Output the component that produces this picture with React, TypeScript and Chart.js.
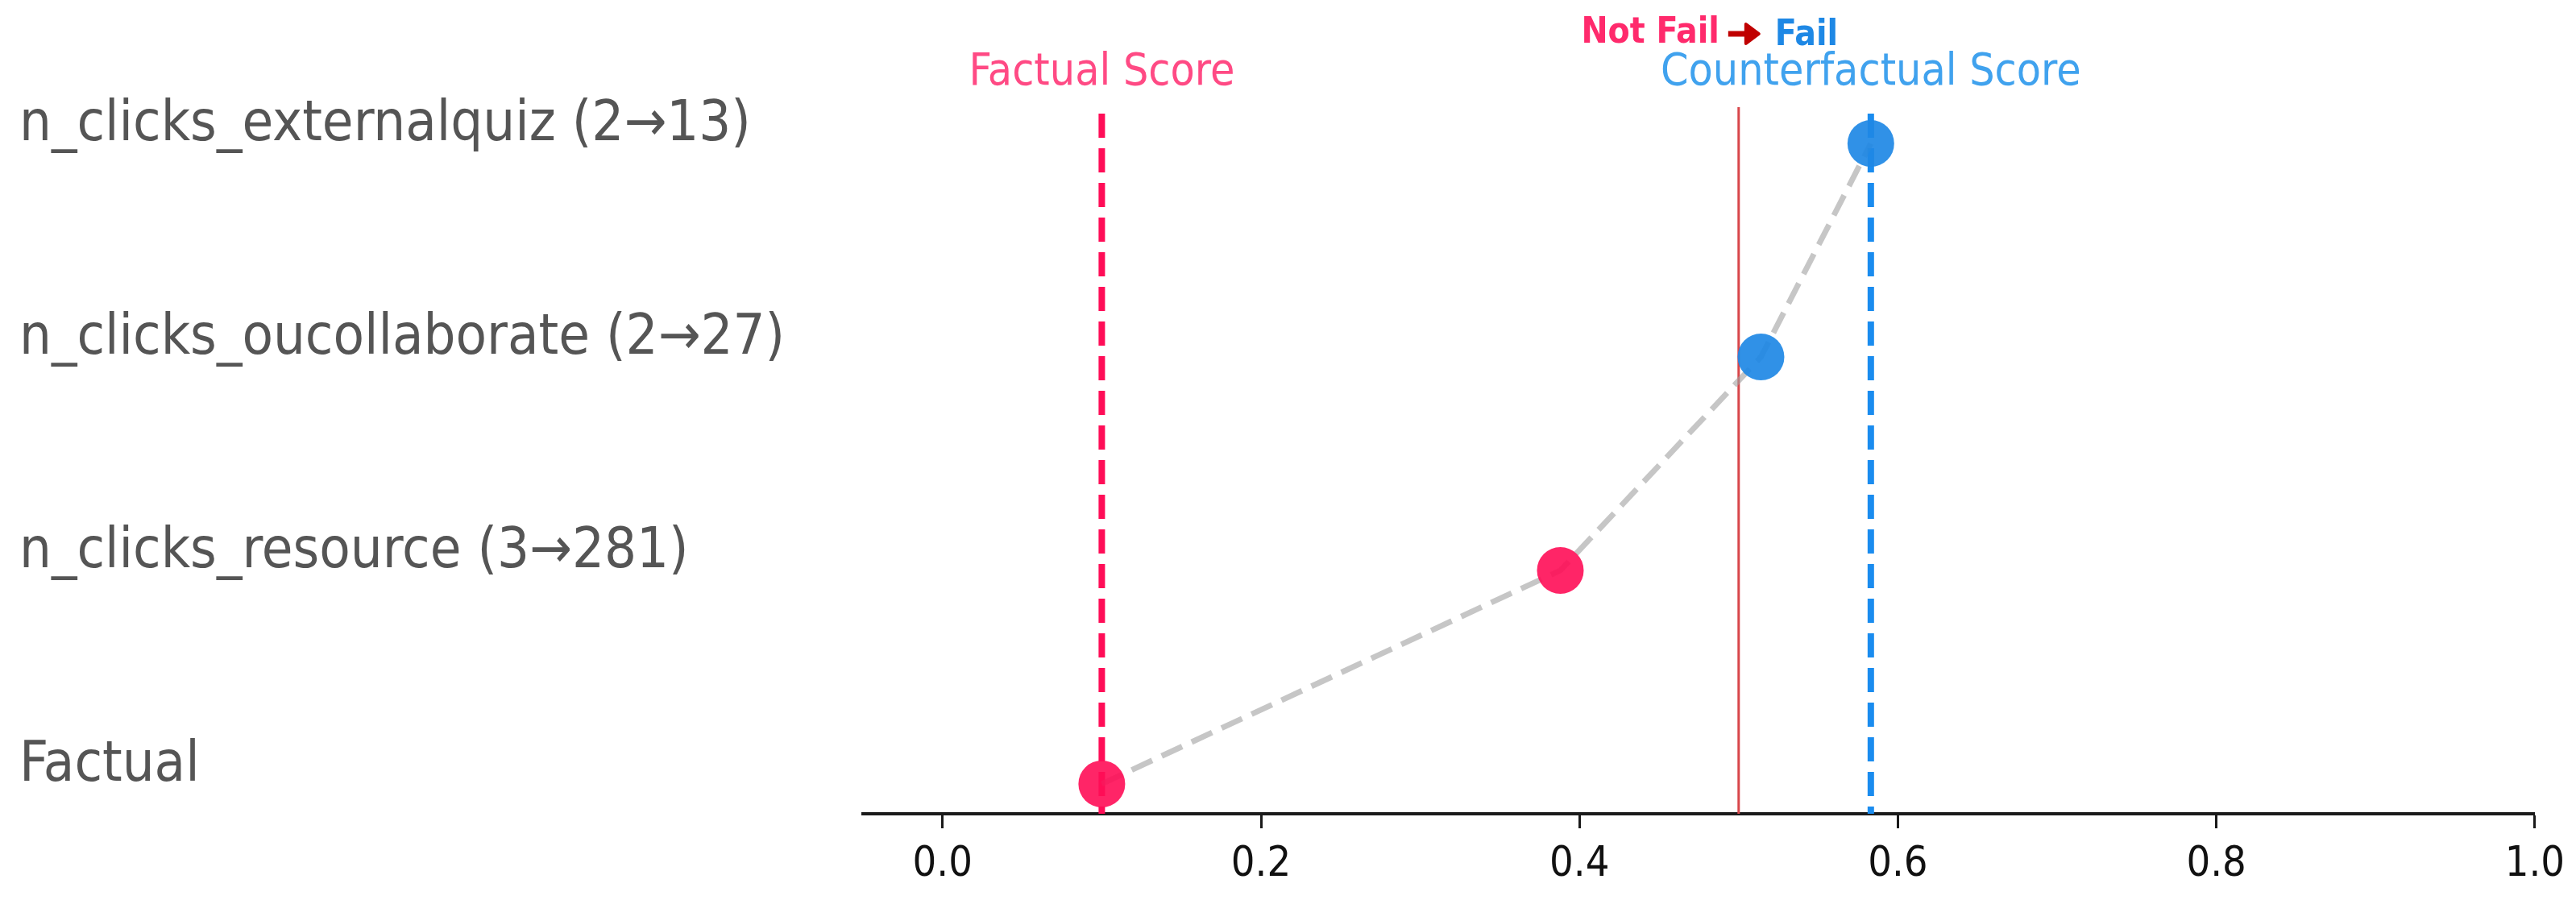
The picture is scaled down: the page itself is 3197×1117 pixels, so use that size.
import React, { useEffect, useRef } from "react";
import { Chart, registerables } from "chart.js";

Chart.register(...registerables);

// ---------- data ----------
const ROW_LABELS = [
  "Factual",
  "n_clicks_resource (3\u2192281)",
  "n_clicks_oucollaborate (2\u219227)",
  "n_clicks_externalquiz (2\u219213)",
];
const ROW_SCORES = [0.1, 0.388, 0.514, 0.583];
const FACTUAL_SCORE = 0.1;
const COUNTERFACTUAL_SCORE = 0.583;
const THRESHOLD = 0.5;
const X_TICKS = [0.0, 0.2, 0.4, 0.6, 0.8, 1.0];
const X_MIN = -0.05;
const X_MAX = 1.0;
const Y_MIN = -0.14;
const Y_MAX = 3.17;
const FROM_CLASS = "Not Fail";
const TO_CLASS = "Fail";

// ---------- styles ----------
const W = 3197;
const H = 1117;
const FONT = '"DejaVu Sans Condensed", "DejaVu Sans", sans-serif';
const PINK = "#ff0d57";
const BLUE = "#1e88e5";
const Y_FONT = 70;
const LABEL_LEFT = 24;
const AREA_LEFT = 1071;
const AREA_TOP = 133;
const AREA_RIGHT = 3146;
const AREA_BOTTOM = 1010;

export default function App() {
  const ref = useRef<HTMLCanvasElement | null>(null);

  useEffect(() => {
    const canvas = ref.current;
    if (!canvas) return;

    const rowPoints = ROW_SCORES.map((v, i) => ({ x: v, y: i }));

    const annotations = {
      id: "annotations",
      afterDraw(chart: any) {
        const ctx = chart.ctx;
        const xs = chart.scales.x;
        ctx.save();
        ctx.textBaseline = "alphabetic";
        ctx.textAlign = "center";
        ctx.font = `normal 55px ${FONT}`;
        ctx.fillStyle = "#ff4a84";
        ctx.fillText("Factual Score", xs.getPixelForValue(FACTUAL_SCORE), 105);
        ctx.fillStyle = "#40a2ee";
        ctx.fillText("Counterfactual Score", xs.getPixelForValue(COUNTERFACTUAL_SCORE), 105);

        const tx = xs.getPixelForValue(THRESHOLD);
        ctx.font = `bold 44px ${FONT}`;
        ctx.textAlign = "right";
        ctx.fillStyle = "#ff2a6c";
        ctx.fillText(FROM_CLASS, tx - 24, 53);

        // heavy arrow
        const ay = 42;
        ctx.fillStyle = "#c00000";
        ctx.strokeStyle = "#c00000";
        ctx.lineWidth = 7;
        ctx.lineCap = "butt";
        ctx.beginPath();
        ctx.moveTo(tx - 13, ay);
        ctx.lineTo(tx + 14, ay);
        ctx.stroke();
        ctx.beginPath();
        ctx.moveTo(tx + 25, ay);
        ctx.lineTo(tx + 9, ay - 12);
        ctx.lineTo(tx + 9, ay + 12);
        ctx.closePath();
        ctx.fill();
        ctx.lineWidth = 4;
        ctx.lineJoin = "round";
        ctx.stroke();

        ctx.textAlign = "left";
        ctx.fillStyle = BLUE;
        ctx.fillText(TO_CLASS, tx + 45, 56);
        ctx.restore();
      },
    };

    const chart = new Chart(canvas, {
      type: "scatter",
      data: {
        datasets: [
          {
            label: "rows",
            data: rowPoints,
            showLine: false,
            pointRadius: 29,
            pointHoverRadius: 29,
            pointBorderWidth: 0,
            pointBackgroundColor: (c: any) =>
              (c.raw && c.raw.x < THRESHOLD) ? "rgba(255,13,87,0.9)" : "rgba(30,136,229,0.92)",
            order: 0,
            clip: false,
          } as any,
          {
            label: "path",
            data: rowPoints,
            showLine: true,
            borderColor: "rgba(160,160,160,0.6)",
            borderWidth: 7,
            borderDash: [28, 13],
            pointRadius: 0,
            order: 1,
          } as any,
          {
            label: "factual",
            data: [
              { x: FACTUAL_SCORE, y: Y_MAX - 0.03 },
              { x: FACTUAL_SCORE, y: Y_MIN },
            ],
            showLine: true,
            borderColor: PINK,
            borderWidth: 8,
            borderDash: [30, 13],
            pointRadius: 0,
            order: 2,
          } as any,
          {
            label: "counterfactual",
            data: [
              { x: COUNTERFACTUAL_SCORE, y: Y_MAX - 0.03 },
              { x: COUNTERFACTUAL_SCORE, y: Y_MIN },
            ],
            showLine: true,
            borderColor: "#1a8cef",
            borderWidth: 8,
            borderDash: [30, 13],
            pointRadius: 0,
            order: 2,
          } as any,
          {
            label: "threshold",
            data: [
              { x: THRESHOLD, y: Y_MAX },
              { x: THRESHOLD, y: Y_MIN },
            ],
            showLine: true,
            borderColor: "#d8464a",
            borderWidth: 3,
            pointRadius: 0,
            order: 2,
          } as any,
        ],
      },
      options: {
        responsive: false,
        animation: false,
        devicePixelRatio: 1,
        layout: {
          padding: { top: AREA_TOP, right: W - AREA_RIGHT, left: LABEL_LEFT, bottom: 0 },
        },
        plugins: {
          legend: { display: false },
          tooltip: { enabled: false },
        },
        scales: {
          x: {
            type: "linear",
            min: X_MIN,
            max: X_MAX,
            afterBuildTicks: (s: any) => {
              s.ticks = X_TICKS.map((v) => ({ value: v }));
            },
            afterFit: (s: any) => {
              s.height = H - AREA_BOTTOM;
            },
            border: { display: true, color: "#1a1a1a", width: 4 },
            grid: {
              drawOnChartArea: false,
              drawTicks: true,
              tickLength: 18,
              tickWidth: 3,
              tickColor: "#1a1a1a",
              color: "#1a1a1a",
            },
            ticks: {
              color: "#111",
              padding: 14,
              font: { family: FONT, size: 52 },
              callback: (v: any) => Number(v).toFixed(1),
              maxRotation: 0,
            },
          },
          y: {
            type: "linear",
            min: Y_MIN,
            max: Y_MAX,
            afterBuildTicks: (s: any) => {
              s.ticks = ROW_LABELS.map((_, i) => ({ value: i }));
            },
            afterFit: (s: any) => {
              s.width = AREA_LEFT - LABEL_LEFT;
            },
            border: { display: false },
            grid: { display: false },
            ticks: {
              crossAlign: "far",
              padding: 0,
              labelOffset: -22,
              color: "#555555",
              font: { family: FONT, size: Y_FONT },
              callback: (v: any) => ROW_LABELS[Math.round(Number(v))] ?? "",
            },
          },
        },
      },
      plugins: [annotations],
    } as any);

    return () => chart.destroy();
  }, []);

  return (
    <div
      style={{
        position: "fixed",
        left: 0,
        top: 0,
        width: W,
        height: H,
        background: "#ffffff",
      }}
    >
      <canvas ref={ref} width={W} height={H} style={{ width: W, height: H, display: "block" }} />
    </div>
  );
}
